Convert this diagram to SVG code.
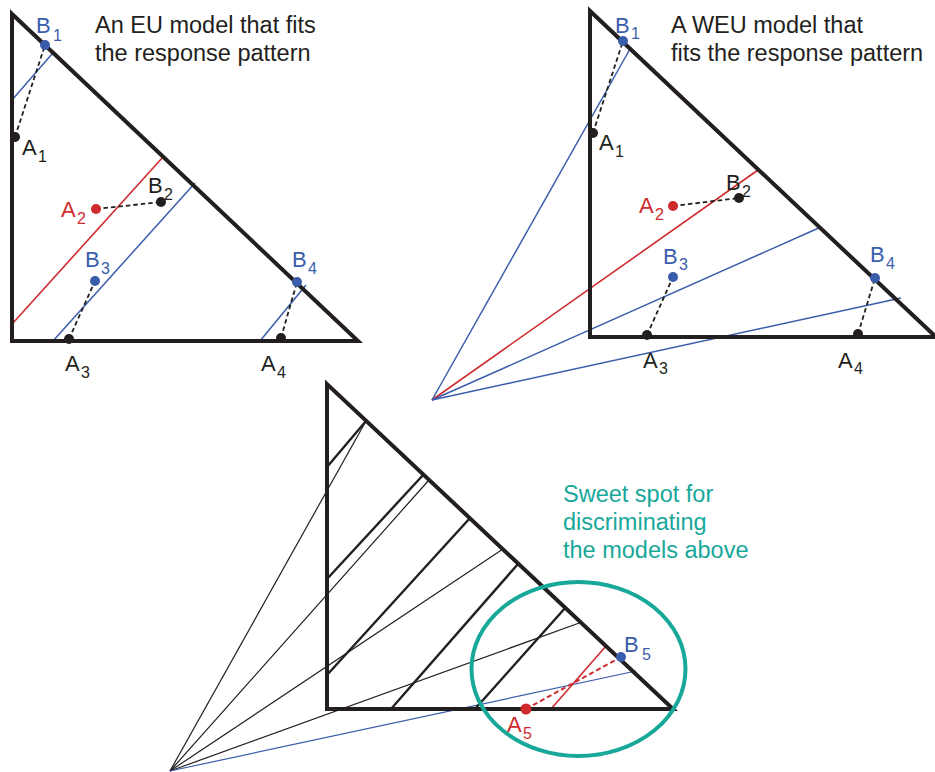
<svg xmlns="http://www.w3.org/2000/svg" width="935" height="772" viewBox="0 0 935 772">
<style>
.tri{fill:none;stroke:#231f20;stroke-width:4;stroke-linejoin:miter;stroke-miterlimit:10}
.bl{stroke:#3a5dab;stroke-width:1.5;fill:none}
.rd{stroke:#cf2a2e;stroke-width:1.6;fill:none}
.ds{stroke:#231f20;stroke-width:1.8;stroke-dasharray:4.5 3;fill:none}
.rds{stroke:#cf2a2e;stroke-width:2;stroke-dasharray:5 3;fill:none}
.thick{stroke:#231f20;stroke-width:2.4;fill:none}
.thin{stroke:#231f20;stroke-width:1.2;fill:none}
.blt{stroke:#3a5dab;stroke-width:1.2;fill:none}
text{font-family:"Liberation Sans",Arial,sans-serif}
.lbl{font-size:22px}
.sub{font-size:16px}
.title{font-size:23.5px;fill:#231f20}
.k{fill:#231f20}
.b{fill:#3a5dab}
.r{fill:#cf2a2e}
.t{fill:#17a89a}
</style>

<g id="connectors">
  <!-- top-left EU model lines -->
  <line class="bl" x1="12" y1="100" x2="52" y2="54"/>
  <line class="rd" x1="13" y1="323" x2="163" y2="157"/>
  <line class="bl" x1="53" y1="341" x2="195" y2="183"/>
  <line class="bl" x1="260" y1="341" x2="306" y2="285"/>
  <line class="ds" x1="15" y1="137" x2="45" y2="45"/>
  <line class="ds" x1="96" y1="209" x2="161" y2="202"/>
  <line class="ds" x1="69" y1="339" x2="95" y2="281"/>
  <line class="ds" x1="281" y1="338" x2="297" y2="282"/>
  <!-- top-right WEU model lines -->
  <line class="bl" x1="432" y1="400" x2="630" y2="49"/>
  <line class="rd" x1="432" y1="400" x2="758" y2="170"/>
  <line class="bl" x1="432" y1="400" x2="821" y2="227"/>
  <line class="bl" x1="432" y1="400" x2="901" y2="298"/>
  <line class="ds" x1="593" y1="133" x2="623" y2="41"/>
  <line class="ds" x1="673" y1="206" x2="739" y2="198"/>
  <line class="ds" x1="647" y1="335" x2="673" y2="277"/>
  <line class="ds" x1="858" y1="334" x2="875" y2="278"/>
  <!-- bottom combined lines -->
  <line class="thin" x1="170" y1="771" x2="366" y2="421"/>
  <line class="thin" x1="170" y1="771" x2="429" y2="480"/>
  <line class="thin" x1="170" y1="771" x2="503" y2="549"/>
  <line class="thin" x1="170" y1="771" x2="582" y2="622"/>
  <line class="blt" x1="170" y1="771" x2="636" y2="671"/>
  <line class="thick" x1="327" y1="467" x2="366" y2="421"/>
  <line class="thick" x1="327" y1="579" x2="424" y2="474"/>
  <line class="thick" x1="327" y1="675" x2="470" y2="518"/>
  <line class="thick" x1="391" y1="709" x2="518" y2="564"/>
  <line class="thick" x1="475" y1="709" x2="566" y2="607"/>
  <line class="rd" x1="551" y1="709" x2="606" y2="646"/>
  <line class="rds" x1="526" y1="709" x2="621" y2="657"/>
</g>

<g id="triangle-eu">
  <polygon class="tri" points="12,14 12,341 358,341"/>
</g>
<g id="triangle-weu">
  <polygon class="tri" points="590,11 590,337 936,337"/>
</g>
<g id="triangle-bottom">
  <polygon class="tri" points="327,384 327,709 673,709"/>
</g>

<g id="sweet-spot">
  <ellipse cx="578.5" cy="669" rx="107" ry="87" fill="none" stroke="#17a89a" stroke-width="4"/>
  <text class="title t" x="563" y="502">Sweet spot for</text>
  <text class="title t" x="563" y="530">discriminating</text>
  <text class="title t" x="563" y="558">the models above</text>
</g>

<g id="title-eu">
  <text class="title" x="95" y="33">An EU model that fits</text>
  <text class="title" x="95" y="61">the response pattern</text>
</g>
<g id="title-weu">
  <text class="title" x="671" y="33">A WEU model that</text>
  <text class="title" x="671" y="61">fits the response pattern</text>
</g>

<!-- top-left points -->
<g id="eu-B1"><circle class="b" cx="45" cy="45" r="5"/><text class="lbl b" x="36" y="33">B<tspan class="sub" x="53" y="41">1</tspan></text></g>
<g id="eu-A1"><circle class="k" cx="15" cy="137" r="5"/><text class="lbl k" x="22" y="155">A<tspan class="sub" x="38" y="162">1</tspan></text></g>
<g id="eu-A2"><circle class="r" cx="96" cy="209" r="5"/><text class="lbl r" x="61" y="217">A<tspan class="sub" x="77" y="224">2</tspan></text></g>
<g id="eu-B2"><circle class="k" cx="161" cy="202" r="5"/><text class="lbl k" x="148" y="193">B<tspan class="sub" x="164" y="200">2</tspan></text></g>
<g id="eu-B3"><circle class="b" cx="95" cy="281" r="5"/><text class="lbl b" x="85" y="267">B<tspan class="sub" x="101" y="274">3</tspan></text></g>
<g id="eu-A3"><circle class="k" cx="69" cy="339" r="5"/><text class="lbl k" x="65" y="371">A<tspan class="sub" x="81" y="378">3</tspan></text></g>
<g id="eu-B4"><circle class="b" cx="297" cy="282" r="5"/><text class="lbl b" x="292" y="267">B<tspan class="sub" x="308" y="274">4</tspan></text></g>
<g id="eu-A4"><circle class="k" cx="281" cy="338" r="5"/><text class="lbl k" x="261" y="371">A<tspan class="sub" x="277" y="378">4</tspan></text></g>

<!-- top-right points -->
<g id="weu-B1"><circle class="b" cx="623" cy="41" r="5"/><text class="lbl b" x="615" y="33">B<tspan class="sub" x="631" y="39">1</tspan></text></g>
<g id="weu-A1"><circle class="k" cx="593" cy="133" r="5"/><text class="lbl k" x="599" y="150">A<tspan class="sub" x="615" y="157">1</tspan></text></g>
<g id="weu-A2"><circle class="r" cx="673" cy="206" r="5"/><text class="lbl r" x="639" y="213">A<tspan class="sub" x="655" y="220">2</tspan></text></g>
<g id="weu-B2"><circle class="k" cx="739" cy="198" r="5"/><text class="lbl k" x="726" y="190">B<tspan class="sub" x="742" y="197">2</tspan></text></g>
<g id="weu-B3"><circle class="b" cx="673" cy="277" r="5"/><text class="lbl b" x="663" y="264">B<tspan class="sub" x="679" y="270">3</tspan></text></g>
<g id="weu-A3"><circle class="k" cx="647" cy="335" r="5"/><text class="lbl k" x="643" y="368">A<tspan class="sub" x="659" y="374">3</tspan></text></g>
<g id="weu-B4"><circle class="b" cx="875" cy="278" r="5"/><text class="lbl b" x="870" y="262">B<tspan class="sub" x="886" y="269">4</tspan></text></g>
<g id="weu-A4"><circle class="k" cx="858" cy="334" r="5"/><text class="lbl k" x="838" y="368">A<tspan class="sub" x="854" y="374">4</tspan></text></g>

<!-- bottom points -->
<g id="bot-B5"><circle class="b" cx="621" cy="657" r="5"/><text class="lbl b" x="624" y="652">B<tspan class="sub" x="642" y="660">5</tspan></text></g>
<g id="bot-A5"><circle class="r" cx="526" cy="709" r="5.5"/><text class="lbl r" x="507" y="732">A<tspan class="sub" x="523" y="739">5</tspan></text></g>
</svg>
